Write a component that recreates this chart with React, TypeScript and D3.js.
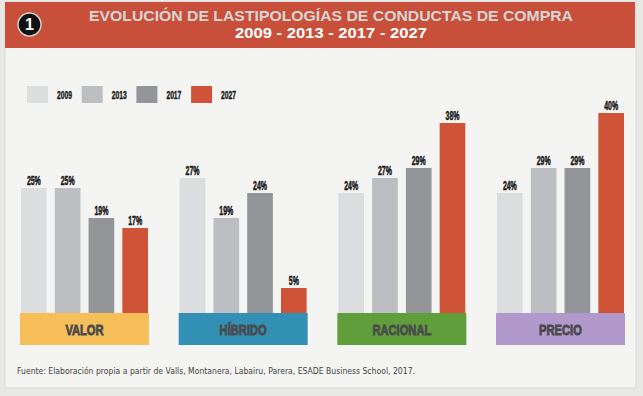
import * as d3 from 'd3';
import { useMemo } from 'react';

const categories = ['VALOR', 'HÍBRIDO', 'RACIONAL', 'PRECIO'];
const years = ['2009', '2013', '2017', '2027'];
const values: Record<string, number[]> = {
  '2009': [25, 27, 24, 24],
  '2013': [25, 19, 27, 29],
  '2017': [19, 24, 29, 29],
  '2027': [17, 5, 38, 40],
};
const yearColors = ['#dcdddf', '#bdbec1', '#939598', '#cf5336'];
const categoryColors = ['#f6bf5a', '#3290b5', '#5f9e3a', '#b199cb'];

const W = 643;
const H = 396;
const baseline = 313;

// condensed text via horizontal squeeze
const Squeezed = ({ x, y, sx, anchor = 'middle', size, fill, heavy = 0.5, children }: any) => (
  <g transform={`translate(${x},${y}) scale(${sx},1)`}>
    <text
      textAnchor={anchor}
      fontSize={size}
      fontWeight="bold"
      fill={fill}
      stroke={fill}
      strokeWidth={heavy}
      fontFamily='"Liberation Sans", Arial, sans-serif'
    >
      {children}
    </text>
  </g>
);

export default function App() {
  const xGroup = useMemo(
    () => d3.scaleBand<string>().domain(categories).range([20, 625]).paddingInner(0.187).paddingOuter(0),
    []
  );
  const xBar = useMemo(
    () => d3.scaleBand<string>().domain(years).range([0, xGroup.bandwidth()]).paddingInner(0.24).paddingOuter(0.03),
    [xGroup]
  );
  const y = useMemo(() => d3.scaleLinear().domain([0, 40]).range([baseline, baseline - 200]), []);

  return (
    <svg width={W} height={H} style={{ position: 'absolute', left: 0, top: 0 }}>
      <rect x={0} y={0} width={W} height={H} fill="#e8e8e6" />
      <rect x={5} y={2} width={631} height={386} fill="#f4f4f2" stroke="#d9d9d7" strokeWidth={1} />
      {/* header */}
      <rect x={5} y={2} width={630} height={46} fill="#c8503a" />
      <circle cx={29.5} cy={24.5} r={11.5} fill="#111" stroke="#d0d0d0" strokeWidth={1.5} />
      <text x={29.5} y={30} textAnchor="middle" fontSize={16} fontWeight="bold" fill="#fff"
        fontFamily='"Liberation Sans", Arial, sans-serif'>1</text>
      <text x={331} y={21} textAnchor="middle" fontSize={14} fontWeight="bold" fill="#d6d6d6"
        textLength={484} lengthAdjust="spacingAndGlyphs"
        fontFamily='"Liberation Sans", Arial, sans-serif'>
        EVOLUCIÓN DE LASTIPOLOGÍAS DE CONDUCTAS DE COMPRA
      </text>
      <text x={331} y={38} textAnchor="middle" fontSize={14} fontWeight="bold" fill="#ffffff"
        textLength={192} lengthAdjust="spacingAndGlyphs"
        fontFamily='"Liberation Sans", Arial, sans-serif'>
        2009 - 2013 - 2017 - 2027
      </text>

      {/* legend */}
      {years.map((yr, i) => {
        const lx = 27 + i * 54.7;
        return (
          <g key={yr}>
            <rect x={lx} y={86} width={21} height={17} fill={yearColors[i]} />
            <Squeezed x={lx + 30} y={99} sx={0.64} anchor="start" size={10.5} fill="#1a1a1a" heavy={0.4}>
              {yr}
            </Squeezed>
          </g>
        );
      })}

      {/* bars */}
      {categories.map((cat, ci) => {
        const gx = xGroup(cat)!;
        return (
          <g key={cat}>
            {years.map((yr, yi) => {
              const v = values[yr][ci];
              const bx = gx + xBar(yr)!;
              const top = y(v);
              return (
                <g key={yr}>
                  <rect x={bx} y={top} width={xBar.bandwidth()} height={baseline - top} fill={yearColors[yi]} />
                  <Squeezed x={bx + xBar.bandwidth() / 2} y={top - 3} sx={0.58} size={12} fill="#1a1a1a" heavy={0.5}>
                    {v}%
                  </Squeezed>
                </g>
              );
            })}
            <rect x={gx} y={baseline} width={xGroup.bandwidth()} height={32} fill={categoryColors[ci]} />
            <Squeezed x={gx + xGroup.bandwidth() / 2} y={334.5} sx={0.72} size={15.5} fill="#4a4a4c" heavy={0.9}>
              {cat}
            </Squeezed>
          </g>
        );
      })}

      {/* source */}
      <text x={17} y={374} fontSize={9} fill="#444" textLength={398} lengthAdjust="spacingAndGlyphs"
        fontFamily='"DejaVu Sans", sans-serif'>
        Fuente: Elaboración propia a partir de Valls, Montanera, Labairu, Parera, ESADE Business School, 2017.
      </text>
    </svg>
  );
}
